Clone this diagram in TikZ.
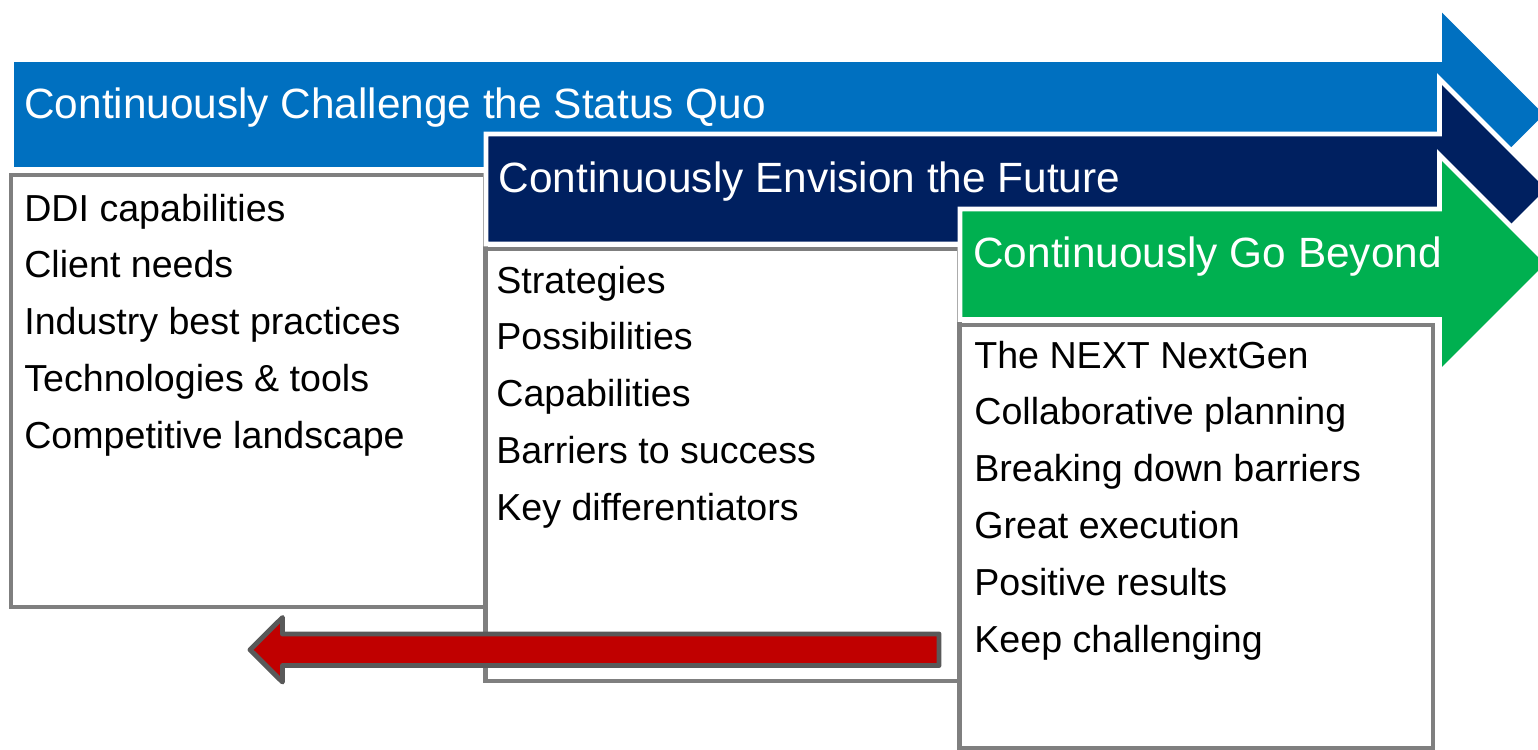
\documentclass[tikz,border=0pt]{standalone}
\usepackage{fontspec}
\setmainfont{Liberation Sans}

\definecolor{quoblue}{RGB}{0,112,192}
\definecolor{futurenavy}{RGB}{0,32,96}
\definecolor{beyondgreen}{RGB}{0,176,80}
\definecolor{backred}{RGB}{192,0,0}
\definecolor{boxgray}{RGB}{127,127,127}
\definecolor{edgegray}{RGB}{89,89,89}

\begin{document}
\begin{tikzpicture}[
    x=0.02cm, y=-0.02cm,
    banner/.style={draw=white, line width=2.8pt, line join=miter},
    listbox/.style={draw=boxgray, fill=white, line width=2.5pt},
    heading/.style={anchor=base west, inner sep=0pt, text=white, font=\fontsize{24.1}{29}\selectfont},
    item/.style={anchor=base west, inner sep=0pt, font=\fontsize{21.4}{26}\selectfont}
]
    \useasboundingbox (0,0) rectangle (1538,750);

    % === Challenge the Status Quo ===
    \fill[banner, fill=quoblue] (11.5,59.5) -- (1439.5,59.5) -- (1439.5,6.5) -- (1547.5,114.5)
        -- (1439.5,222.5) -- (1439.5,169.5) -- (11.5,169.5) -- cycle;
    \node[heading] (quo) at (24,118) {Continuously Challenge the Status Quo};

    \draw[listbox] (11,175) rectangle (485.5,607);
    \foreach \txt [count=\i] in {DDI capabilities, Client needs, Industry best practices,
        Technologies \& tools, Competitive landscape}
        \node[item] (quo-\i) at (24, {221+56.8*(\i-1)}) {\txt};

    % === Envision the Future ===
    \fill[banner, fill=futurenavy] (486,134) -- (1439.5,134) -- (1439.5,79) -- (1549.5,189)
        -- (1439.5,299) -- (1439.5,244) -- (486,244) -- cycle;
    \node[heading] (future) at (498.5,193) {Continuously Envision the Future};

    \draw[listbox] (485.5,249) rectangle (959.5,681);
    \foreach \txt [count=\i] in {Strategies, Possibilities, Capabilities,
        Barriers to success, Key differentiators}
        \node[item] (future-\i) at (496, {293+56.8*(\i-1)}) {\txt};

    % === Go Beyond ===
    \fill[banner, fill=beyondgreen] (960,209) -- (1439.5,209) -- (1439.5,155) -- (1548.5,264)
        -- (1439.5,373) -- (1439.5,319.5) -- (960,319.5) -- cycle;
    \node[heading] (beyond) at (973,267) {Continuously Go Beyond};

    \draw[listbox] (959.5,325) rectangle (1433,748);
    \foreach \txt [count=\i] in {The NEXT NextGen, Collaborative planning, Breaking down barriers,
        Great execution, Positive results, Keep challenging}
        \node[item] (beyond-\i) at (974, {368+56.8*(\i-1)}) {\txt};

    % feedback arrow back to the start
    \filldraw[fill=backred, draw=edgegray, line width=2.8pt, line join=round]
        (939,634) -- (282.5,634) -- (282.5,617.5) -- (250,649.75)
        -- (282.5,682) -- (282.5,665.5) -- (939,665.5) -- cycle;

\end{tikzpicture}
\end{document}
